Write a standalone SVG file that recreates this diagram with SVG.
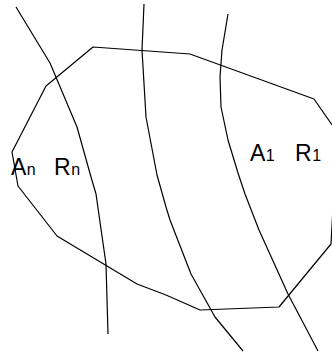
<svg xmlns="http://www.w3.org/2000/svg" width="332" height="354" viewBox="0 0 332 354">
<style>
.l{fill:none;stroke:#000;stroke-width:1.2;stroke-linejoin:round}
.t{font-family:"Liberation Sans",Arial,sans-serif;fill:#000}
.b{font-size:23px}
.s{font-size:16px}
</style>
<rect width="332" height="354" fill="#fff"/>
<g id="region">
<polygon class="l" points="93,47 190,54 314,99 335,129 335,170 331,244 279,307 200,310 166,295 137,284 57,236 18,186 12,152 46,86"/>
</g>
<g id="connectors">
<polyline class="l" points="16,7 50,63 77,127 91,177 96,194 106,264 108,334"/>
<polyline class="l" points="144,4 142,50 146,117 157,175 166,207 170,220 191,274 215,317 243,351"/>
<polyline class="l" points="228,14 222,50 220,77 221,107 228,140 238,173 245,194 259,230 288,294 318,351"/>
</g>
<g id="label-n">
<text class="t" x="11" y="174.5"><tspan class="b">A</tspan><tspan class="s" dx="0.5">n</tspan></text>
<text class="t" x="54" y="174.5"><tspan class="b">R</tspan><tspan class="s" dx="0.5">n</tspan></text>
</g>
<g id="label-1">
<text class="t" x="250" y="160.5"><tspan class="b">A</tspan><tspan class="s" dx="0.5">1</tspan></text>
<text class="t" x="295" y="160.5"><tspan class="b">R</tspan><tspan class="s" dx="0.5">1</tspan></text>
</g>
</svg>
